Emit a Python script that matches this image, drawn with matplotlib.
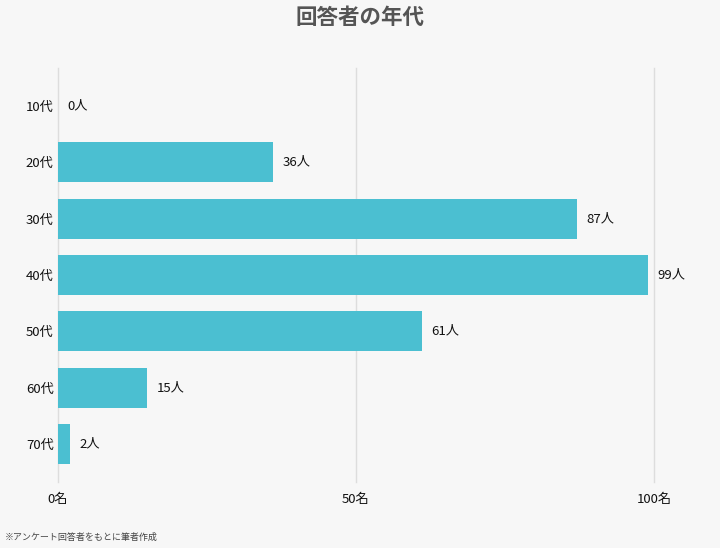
import matplotlib.pyplot as plt

plt.rcParams['font.family'] = ['Noto Sans CJK JP', 'DejaVu Sans']

# 데이터
ages = ['10代', '20代', '30代', '40代', '50代', '60代', '70代']
counts = [0, 36, 87, 99, 61, 15, 2]
xticks = [0, 50, 100]
xtick_labels = ['0名', '50名', '100名']

bg = '#f7f7f7'
fig = plt.figure(figsize=(7.2, 5.48), dpi=100, facecolor=bg)
ax = fig.add_axes([58 / 720, 1 - 482 / 548, (654 - 58) / 720, (482 - 68) / 548])
ax.set_facecolor(bg)

y = range(len(ages))
ax.barh(y, counts, height=0.71, color='#4bbfd1', zorder=3)
for i, v in enumerate(counts):
    ax.annotate(f'{v}人', (v, i), xytext=(7, 0), textcoords='offset points',
                va='center', ha='left', fontsize=9.5, color='#111111')

ax.set_xlim(0, 100)
ax.set_ylim(6.675, -0.675)
ax.set_yticks(list(y))
ax.set_yticklabels(ages, fontsize=9.5, color='#111111')
ax.set_xticks(xticks)
ax.set_xticklabels(xtick_labels, fontsize=9.5, color='#111111')
ax.tick_params(length=0, pad=3)
ax.tick_params(axis='x', pad=8)
ax.grid(axis='x', color='#dddddd', linewidth=1, zorder=0)
for l in ax.get_xgridlines():
    l.set_clip_on(False)
for s in ax.spines.values():
    s.set_visible(False)

fig.text(0.5, 1 - 17 / 548, '回答者の年代', ha='center', va='center',
         fontsize=15.5, fontweight='bold', color='#555555')
fig.text(5 / 720, 1 - 537 / 548, '※アンケート回答者をもとに筆者作成', ha='left', va='center',
         fontsize=6.5, color='#444444')

fig.savefig('out.png', dpi=100, facecolor=bg)
